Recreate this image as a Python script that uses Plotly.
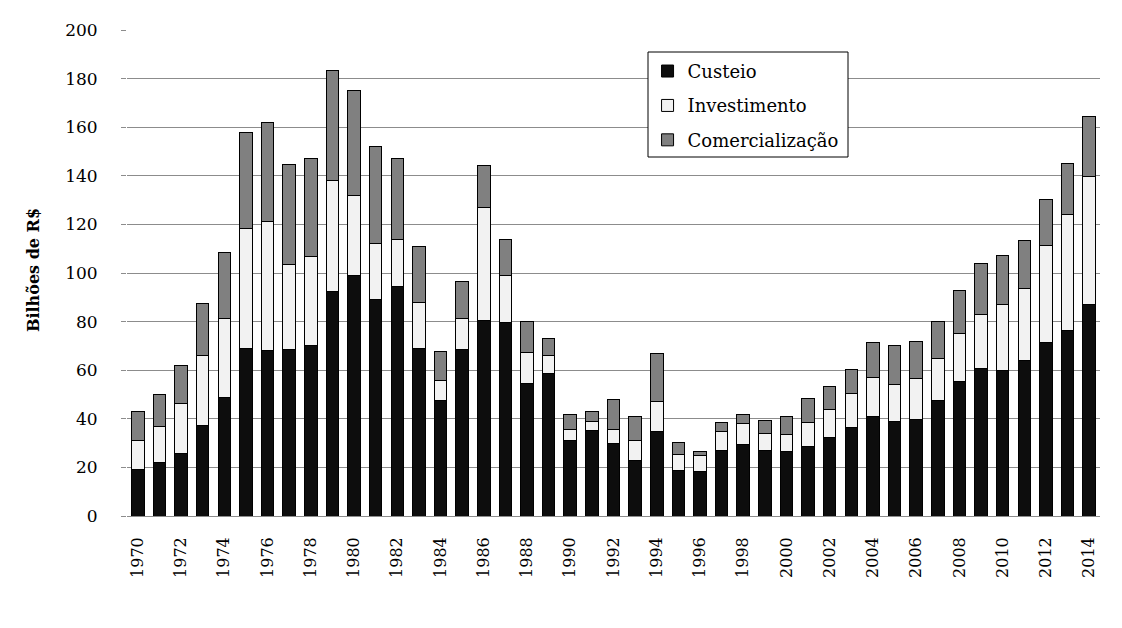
import plotly.graph_objects as go

years = list(range(1970, 2015))
custeio = [19.3, 22.1, 25.8, 37.3, 48.8, 69.1, 68.3, 68.7, 70.0, 92.2,
           99.0, 89.2, 94.5, 69.1, 47.7, 68.5, 80.5, 79.6, 54.6, 58.7,
           30.9, 35.2, 29.7, 22.7, 34.7, 18.6, 18.2, 26.8, 29.3, 26.9,
           26.5, 28.6, 32.3, 36.4, 41.0, 38.8, 39.7, 47.5, 55.3, 60.7,
           59.8, 64.0, 71.4, 76.3, 87.0]
investimento = [11.8, 14.8, 20.6, 28.8, 32.5, 49.3, 53.0, 34.9, 36.9, 45.9,
                33.0, 23.0, 19.4, 18.8, 8.1, 12.8, 46.6, 19.4, 12.7, 7.3,
                4.6, 3.6, 5.8, 8.2, 12.3, 6.6, 6.6, 7.9, 8.7, 6.9,
                7.0, 9.8, 11.4, 14.0, 16.0, 15.3, 16.9, 17.3, 19.8, 22.2,
                27.2, 29.5, 39.9, 47.8, 52.7]
comercializacao = [12.0, 13.2, 15.6, 21.4, 27.2, 39.5, 40.7, 41.1, 40.3, 45.3,
                   43.2, 39.9, 33.3, 23.1, 12.0, 15.3, 17.3, 14.9, 12.8, 7.0,
                   6.2, 4.1, 12.4, 10.0, 19.9, 4.9, 1.6, 3.7, 3.7, 5.7,
                   7.4, 9.9, 9.4, 9.9, 14.4, 16.0, 15.2, 15.2, 17.7, 21.0,
                   20.2, 19.9, 19.0, 21.0, 24.7]
y_ticks = [0, 20, 40, 60, 80, 100, 120, 140, 160, 180, 200]
x_ticks = list(range(1970, 2015, 2))

FONT = "DejaVu Serif"
series = [("Custeio", custeio, "#0d0d0d"),
          ("Investimento", investimento, "#f2f2f2"),
          ("Comercialização", comercializacao, "#808080")]

fig = go.Figure()
for name, vals, col in series:
    fig.add_trace(go.Bar(
        x=years, y=vals, name=name, legendgroup=name,
        marker=dict(color=col, line=dict(color="#000000", width=1)),
        width=0.58,
    ))

# page body has an 8px margin, so figure coords = screen coords - 8
L, T = 119, 22
PW, PH = 973, 486
fig.update_layout(
    barmode="stack",
    width=1122, height=628,
    margin=dict(l=L, r=1122 - L - PW, t=T, b=628 - T - PH),
    paper_bgcolor="white", plot_bgcolor="white",
    font=dict(family=FONT, size=17, color="#000000"),
    showlegend=True,
    legend=dict(
        x=0.535, y=0.953, xanchor="left", yanchor="top",
        borderwidth=0, bgcolor="rgba(0,0,0,0)",
        traceorder="grouped", tracegroupgap=8,
        font=dict(family=FONT, size=18),
    ),
    shapes=[dict(
        type="rect", xref="paper", yref="paper",
        x0=(648 - 127) / PW, x1=(848 - 127) / PW,
        y0=(516 - 157) / PH, y1=(516 - 52) / PH,
        line=dict(color="#000000", width=1), fillcolor="white", layer="above",
    )],
    xaxis=dict(
        range=[1969.5, 2014.5], automargin=False,
        tickmode="array", tickvals=x_ticks, ticktext=[str(v) for v in x_ticks],
        tickangle=-90, showgrid=False, zeroline=False,
        showline=False, ticks="", ticklabelstandoff=17,
        tickfont=dict(family=FONT, size=16),
    ),
    yaxis=dict(
        range=[0, 200], automargin=False,
        tickmode="array", tickvals=y_ticks, ticktext=[str(v) for v in y_ticks],
        showgrid=True, gridcolor="#8c8c8c", gridwidth=1,
        zeroline=True, zerolinecolor="#8c8c8c", zerolinewidth=1,
        ticks="outside", ticklen=5, tickcolor="#8c8c8c",
        ticklabelstandoff=20, showline=False,
        tickfont=dict(family=FONT, size=17),
    ),
    annotations=[dict(
        text="<b>Bilhões de R$</b>", textangle=-90,
        xref="paper", yref="paper", x=(25 - L) / PW, y=0.506,
        xanchor="center", yanchor="middle", showarrow=False,
        font=dict(family=FONT, size=16),
    )],
)

fig.write_html("out.html")
